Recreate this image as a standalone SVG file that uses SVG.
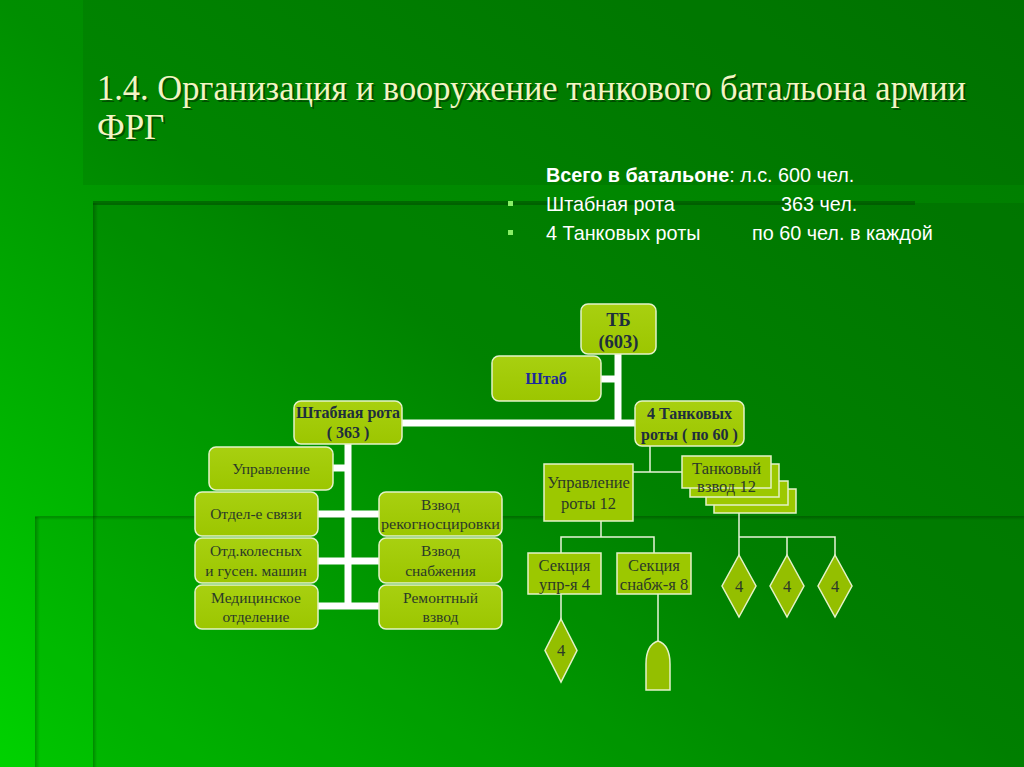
<svg xmlns="http://www.w3.org/2000/svg" width="1024" height="767" viewBox="0 0 1024 767">
<defs>
<linearGradient id="bg" x1="1" y1="0" x2="0" y2="1">
<stop offset="0" stop-color="#007a00"/>
<stop offset="0.5" stop-color="#008e00"/>
<stop offset="1" stop-color="#00d200"/>
</linearGradient>
<linearGradient id="nodeFill" x1="0" y1="0" x2="0" y2="1">
<stop offset="0" stop-color="#a8d010"/>
<stop offset="1" stop-color="#9cc600"/>
</linearGradient>
<linearGradient id="edgeV" x1="0" y1="0" x2="1" y2="0">
<stop offset="0" stop-color="#000" stop-opacity="0.25"/>
<stop offset="1" stop-color="#000" stop-opacity="0"/>
</linearGradient>
<linearGradient id="edgeH" x1="0" y1="0" x2="0" y2="1">
<stop offset="0" stop-color="#000" stop-opacity="0.25"/>
<stop offset="1" stop-color="#000" stop-opacity="0"/>
</linearGradient>
</defs>
<style>
.rn { fill: url(#nodeFill); stroke: #e4f2c8; stroke-width: 1.5; }
.sq { fill: #9cc800; stroke: #e4f2c8; stroke-width: 1.5; }
.dm { fill: #94bf00; stroke: #e4f2c8; stroke-width: 1.5; }
.t { font-family: "Liberation Serif", serif; font-size: 15.5px; fill: #2b3a28; text-anchor: middle; }
.tb { font-family: "Liberation Serif", serif; font-size: 16px; font-weight: bold; fill: #1e2e3e; text-anchor: middle; }
.tbl { font-family: "Liberation Serif", serif; font-size: 18.5px; font-weight: bold; fill: #1e2e3e; text-anchor: middle; }
.ts { font-family: "Liberation Serif", serif; font-size: 16.5px; fill: #2b3a28; text-anchor: middle; }
.thick { stroke: #ffffff; stroke-width: 7; fill: none; }
.thin { stroke: #e8f4d8; stroke-width: 1.5; fill: none; }
.info { font-family: "Liberation Sans", sans-serif; font-size: 19.8px; fill: #ffffff; }
.title { font-family: "Liberation Serif", serif; font-size: 35px; fill: #f4f4c4; }
.titleSh { font-family: "Liberation Serif", serif; font-size: 35px; fill: #003000; opacity: 0.6; }
</style>

<!-- background -->
<rect x="0" y="0" width="1024" height="767" fill="url(#bg)"/>
<rect x="83" y="0" width="941" height="185" fill="#000" opacity="0.07"/>
<rect x="93" y="203" width="931" height="314" fill="#000" opacity="0.08"/>
<rect x="93" y="203" width="5" height="314" fill="url(#edgeV)"/>
<rect x="93" y="201" width="822" height="4" fill="#004400" opacity="0.5"/>
<rect x="35" y="517" width="989" height="250" fill="#000" opacity="0.05"/>
<rect x="93" y="517" width="931" height="250" fill="#000" opacity="0.05"/>
<rect x="35" y="517" width="5" height="250" fill="url(#edgeV)"/>
<rect x="93" y="517" width="4" height="250" fill="url(#edgeV)"/>
<rect x="35" y="516" width="989" height="4" fill="url(#edgeH)"/>

<!-- title -->
<g id="title">
<text class="titleSh" x="99" y="102" textLength="869" lengthAdjust="spacingAndGlyphs">1.4. Организация и вооружение танкового батальона армии</text>
<text class="title" x="97" y="100" textLength="869" lengthAdjust="spacingAndGlyphs">1.4. Организация и вооружение танкового батальона армии</text>
<text class="titleSh" x="99" y="141">ФРГ</text>
<text class="title" x="97" y="139">ФРГ</text>
</g>

<!-- info -->
<g id="info">
<text class="info" x="546" y="182"><tspan font-weight="bold">Всего в батальоне</tspan>: л.с. 600 чел.</text>
<rect x="508" y="201" width="5" height="5" fill="#88ee66"/>
<text class="info" x="546" y="211">Штабная рота</text>
<text class="info" x="781" y="211">363 чел.</text>
<rect x="508" y="230" width="5" height="5" fill="#88ee66"/>
<text class="info" x="546" y="240">4 Танковых роты</text>
<text class="info" x="752" y="240">по 60 чел. в каждой</text>
</g>

<!-- connectors -->
<g id="connectors">
<line class="thick" x1="618" y1="354" x2="618" y2="426"/>
<line class="thick" x1="601" y1="379" x2="618" y2="379"/>
<line class="thick" x1="402" y1="423" x2="635" y2="423"/>
<line class="thick" x1="348" y1="444" x2="348" y2="609"/>
<line class="thick" x1="332" y1="468" x2="348" y2="468"/>
<line class="thick" x1="317" y1="514" x2="379" y2="514"/>
<line class="thick" x1="317" y1="561" x2="379" y2="561"/>
<line class="thick" x1="317" y1="606" x2="379" y2="606"/>
<polyline class="thin" points="650,446 650,472"/>
<polyline class="thin" points="633,472 683,472"/>
<polyline class="thin" points="601,521 601,537"/>
<polyline class="thin" points="561,553 561,537 654,537 654,553"/>
<polyline class="thin" points="561,594 561,619"/>
<polyline class="thin" points="658,594 658,641"/>
<polyline class="thin" points="739,513 739,555"/>
<polyline class="thin" points="739,537 835,537 835,555"/>
<polyline class="thin" points="787,537 787,555"/>
</g>

<!-- nodes -->
<g id="n-tb">
<rect class="rn" x="581" y="304" width="75" height="50" rx="7"/>
<text class="tbl" x="618.5" y="326">ТБ</text>
<text class="tbl" x="618.5" y="348">(603)</text>
</g>
<g id="n-shtab">
<rect class="rn" x="492" y="356" width="109" height="45" rx="7"/>
<text class="tb" x="546" y="384" style="fill:#1c2a9a">Штаб</text>
</g>
<g id="n-shtrota">
<rect class="rn" x="294" y="401" width="108" height="43" rx="7"/>
<text class="tb" x="348" y="418">Штабная рота</text>
<text class="tb" x="348" y="438">( 363 )</text>
</g>
<g id="n-tankroty">
<rect class="rn" x="635" y="401" width="109" height="45" rx="7"/>
<text class="tb" x="689.5" y="419">4 Танковых</text>
<text class="tb" x="689.5" y="440">роты ( по 60 )</text>
</g>
<g id="n-upr">
<rect class="rn" x="209" y="447" width="124" height="43" rx="7"/>
<text class="t" x="271" y="474">Управление</text>
</g>
<g id="n-svyaz">
<rect class="rn" x="195" y="492" width="123" height="44" rx="7"/>
<text class="t" x="256" y="519">Отдел-е связи</text>
</g>
<g id="n-kol">
<rect class="rn" x="195" y="538" width="123" height="45" rx="7"/>
<text class="t" x="256" y="556">Отд.колесных</text>
<text class="t" x="256" y="576">и гусен. машин</text>
</g>
<g id="n-med">
<rect class="rn" x="195" y="585" width="123" height="44" rx="7"/>
<text class="t" x="256" y="603">Медицинское</text>
<text class="t" x="256" y="622">отделение</text>
</g>
<g id="n-rek">
<rect class="rn" x="379" y="492" width="123" height="44" rx="7"/>
<text class="t" x="440.5" y="510">Взвод</text>
<text class="t" x="440.5" y="529" textLength="119" lengthAdjust="spacingAndGlyphs">рекогносцировки</text>
</g>
<g id="n-snab">
<rect class="rn" x="379" y="538" width="123" height="45" rx="7"/>
<text class="t" x="440.5" y="556">Взвод</text>
<text class="t" x="440.5" y="576">снабжения</text>
</g>
<g id="n-rem">
<rect class="rn" x="379" y="585" width="123" height="44" rx="7"/>
<text class="t" x="440.5" y="603">Ремонтный</text>
<text class="t" x="440.5" y="622">взвод</text>
</g>

<g id="n-uprroty">
<rect class="sq" x="544" y="464" width="89" height="57"/>
<text class="ts" x="588.5" y="488">Управление</text>
<text class="ts" x="588.5" y="509">роты 12</text>
</g>
<g id="n-tankvzvod">
<rect class="sq" x="714" y="489" width="82" height="24"/>
<rect class="sq" x="706" y="481" width="82" height="24"/>
<rect class="sq" x="690" y="464" width="89" height="33"/>
<rect class="sq" x="682" y="456" width="89" height="32"/>
<text class="ts" x="726.5" y="474">Танковый</text>
<text class="ts" x="726.5" y="492">взвод 12</text>
</g>
<g id="n-sekupr">
<rect class="sq" x="528" y="553" width="73" height="41"/>
<text class="ts" x="564.5" y="571">Секция</text>
<text class="ts" x="564.5" y="590">упр-я 4</text>
</g>
<g id="n-seksnab">
<rect class="sq" x="617" y="553" width="74" height="41"/>
<text class="ts" x="654" y="571">Секция</text>
<text class="ts" x="654" y="590">снабж-я 8</text>
</g>
<g id="n-d1">
<polygon class="dm" points="561,619 577,650.5 561,682 545,650.5"/>
<text class="ts" x="561" y="656">4</text>
</g>
<g id="n-dome">
<path class="dm" d="M646,690 L646,664 Q646,645 658,641 Q670,645 670,664 L670,690 Z"/>
</g>
<g id="n-d2">
<polygon class="dm" points="739,555 756,586 739,617 722,586"/>
<text class="ts" x="739" y="592">4</text>
</g>
<g id="n-d3">
<polygon class="dm" points="787,555 804,586 787,617 770,586"/>
<text class="ts" x="787" y="592">4</text>
</g>
<g id="n-d4">
<polygon class="dm" points="835,555 852,586 835,617 818,586"/>
<text class="ts" x="835" y="592">4</text>
</g>
</svg>
